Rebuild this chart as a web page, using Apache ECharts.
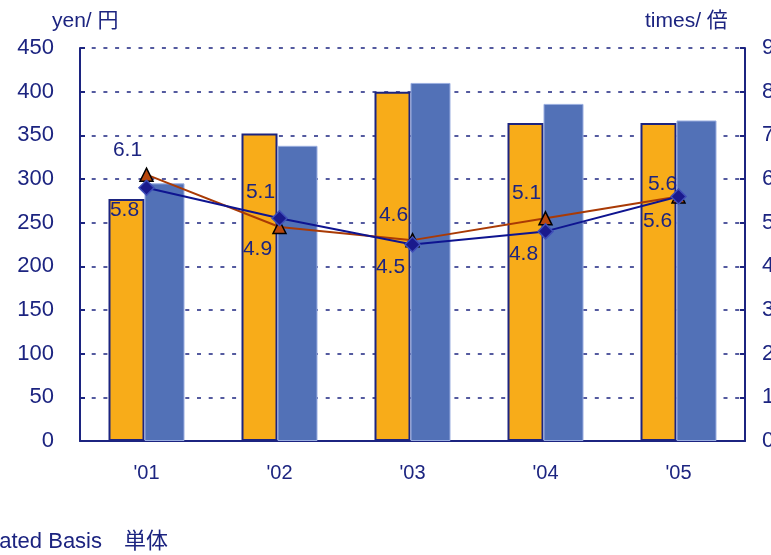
<!DOCTYPE html>
<html>
<head>
<meta charset="utf-8">
<script src="https://cdn.jsdelivr.net/npm/echarts@6/dist/echarts.min.js"></script>
<style>
  html, body { margin: 0; padding: 0; background: #fff; }
  #chart { width: 771px; height: 555px; }
</style>
</head>
<body>
<div id="chart"></div>
<script>
// Fiscal years
const years = ["'01", "'02", "'03", "'04", "'05"];
// Bar series (yen, left axis)
const barOrange = [277, 352, 400, 364, 364];
const barBlue = [295, 338, 410, 386, 367];
// Line series (times, right axis)
const lineTriangle = [6.1, 4.9, 4.6, 5.1, 5.6];
const lineDiamond = [5.8, 5.1, 4.5, 4.8, 5.6];
// Axis labels
const leftTicks = [0, 50, 100, 150, 200, 250, 300, 350, 400, 450];
const rightTicks = [0, 1, 2, 3, 4, 5, 6, 7, 8, 9];

const NAVY = '#1C2480';
const FONT = '"Liberation Sans", Arial, "Noto Sans CJK JP", sans-serif';

// Put the label of the higher point of each year above it, the lower one below;
// when both lines meet, the two labels sit closer to the shared point
function lineData(values, other, preferTopOnTie) {
  return values.map((v, i) => {
    const tie = v === other[i];
    const top = v > other[i] || (tie && preferTopOnTie);
    let label;
    if (top) {
      label = tie
        ? { position: 'top', distance: 0, offset: [-16, 5] }
        : { position: 'top', distance: 8, offset: [-19, 1] };
    } else {
      label = tie
        ? { position: 'bottom', distance: 3, offset: [-21, 3] }
        : { position: 'bottom', distance: 3, offset: [-22, 1] };
    }
    return { value: v, label };
  });
}

const chart = echarts.init(document.getElementById('chart'), null, { renderer: 'canvas' });
chart.setOption({
  animation: false,
  backgroundColor: '#fff',
  textStyle: { fontFamily: FONT },
  grid: { left: 80, right: 26, top: 48, bottom: 114, containLabel: false, outerBoundsMode: 'none' },
  xAxis: {
    type: 'category',
    data: years,
    axisLine: { lineStyle: { color: NAVY, width: 2 } },
    axisTick: { inside: true, length: 6, lineStyle: { color: NAVY, width: 2 } },
    axisLabel: { color: NAVY, fontSize: 20, margin: 22, fontFamily: FONT }
  },
  yAxis: [
    {
      type: 'value',
      min: leftTicks[0],
      max: leftTicks[leftTicks.length - 1],
      interval: leftTicks[1] - leftTicks[0],
      axisLine: { show: true, lineStyle: { color: NAVY, width: 2 } },
      axisTick: { show: true, inside: true, length: 5, lineStyle: { color: NAVY, width: 2 } },
      axisLabel: { color: NAVY, fontSize: 22, margin: 26, fontFamily: FONT },
      splitLine: { show: true, lineStyle: { color: NAVY, width: 1.6, type: [4, 7.7] } }
    },
    {
      type: 'value',
      min: rightTicks[0],
      max: rightTicks[rightTicks.length - 1],
      interval: rightTicks[1] - rightTicks[0],
      axisLine: { show: true, lineStyle: { color: NAVY, width: 2 } },
      axisTick: { show: true, inside: true, length: 5, lineStyle: { color: NAVY, width: 2 } },
      axisLabel: { color: NAVY, fontSize: 22, margin: 17, fontFamily: FONT },
      splitLine: { show: false }
    }
  ],
  series: [
    {
      type: 'bar',
      data: barOrange,
      barWidth: 36,
      barGap: '0%',
      itemStyle: { color: '#F8AC19', borderColor: NAVY, borderWidth: 2 }
    },
    {
      type: 'bar',
      data: barBlue,
      barWidth: 40,
      barGap: '0%',
      itemStyle: { color: '#5271B7', borderColor: '#9AAEE0', borderWidth: 1 }
    },
    {
      type: 'line',
      yAxisIndex: 1,
      data: lineData(lineTriangle, lineDiamond, true),
      symbol: 'triangle',
      symbolSize: 13,
      lineStyle: { color: '#A93A05', width: 2 },
      itemStyle: { color: '#B8470C', borderColor: '#000', borderWidth: 1.5 },
      label: { show: true, color: NAVY, fontSize: 21, fontFamily: FONT },
      z: 3
    },
    {
      type: 'line',
      yAxisIndex: 1,
      data: lineData(lineDiamond, lineTriangle, false),
      symbol: 'diamond',
      symbolSize: 15,
      lineStyle: { color: '#0E1490', width: 2 },
      itemStyle: { color: '#1A1A8C', borderColor: '#3F4FB8', borderWidth: 1.5 },
      label: { show: true, color: NAVY, fontSize: 21, fontFamily: FONT },
      z: 4
    }
  ],
  graphic: [
    {
      type: 'text', left: 52, top: 11,
      style: { text: 'yen/ 円', fill: NAVY, font: '21px ' + FONT }
    },
    {
      type: 'text', left: 645, top: 11,
      style: { text: 'times/ 倍', fill: NAVY, font: '21px ' + FONT }
    },
    {
      type: 'text', x: 168, y: 542,
      style: { text: 'Non-Consolidated Basis　単体', fill: NAVY, font: '22px ' + FONT, align: 'right', verticalAlign: 'middle' }
    }
  ]
});
</script>
</body>
</html>
